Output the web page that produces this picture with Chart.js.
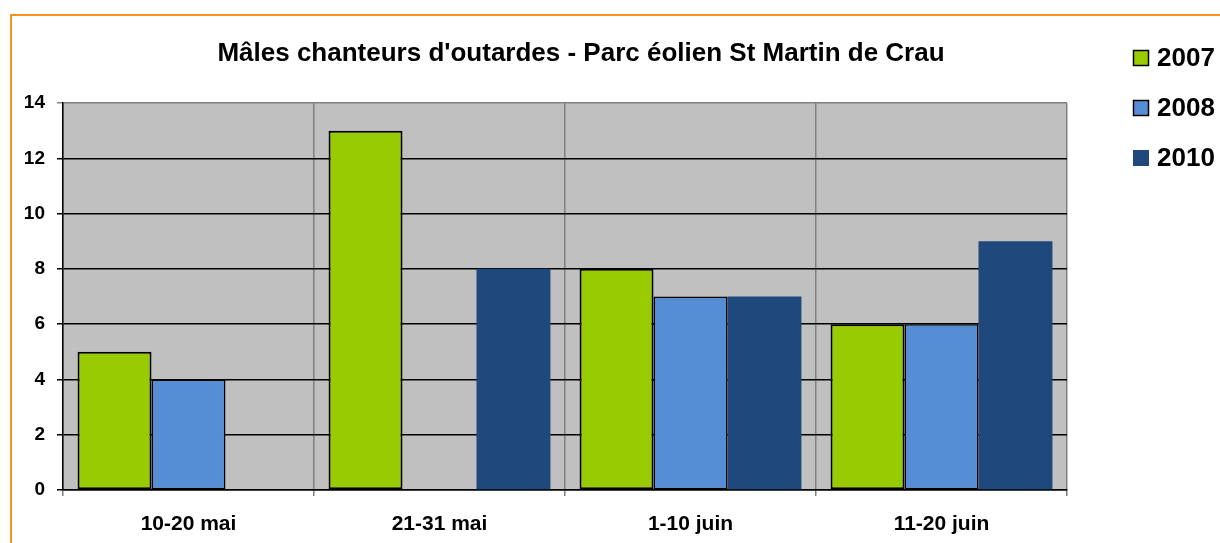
<!DOCTYPE html>
<html>
<head>
<meta charset="utf-8">
<script src="https://cdn.jsdelivr.net/npm/chart.js@4/dist/chart.umd.min.js"></script>
<style>
body{margin:0;background:#fff;overflow:hidden;width:1220px;height:543px;position:relative;}
#frame{position:absolute;left:10px;top:14px;width:1230px;height:600px;border:2px solid #F7931E;box-sizing:border-box;}
#wrap{position:absolute;left:0;top:0;width:1220px;height:543px;}
</style>
</head>
<body>
<div id="frame"></div>
<div id="wrap"><canvas id="myChart" width="1220" height="543"></canvas></div>
<script>
var chartTitle = "Mâles chanteurs d'outardes - Parc éolien St Martin de Crau";
var categories = ["10-20 mai", "21-31 mai", "1-10 juin", "11-20 juin"];
var seriesNames = ["2007", "2008", "2010"];
var values2007 = [5, 13, 8, 6];
var values2008 = [4, null, 7, 6];
var values2010 = [null, 8, 7, 9];
var yTicks = [0, 2, 4, 6, 8, 10, 12, 14];

var colors = ["#99CC00", "#558ED5", "#1F497D"];
var borders = [2, 1.5, 0];

// gray plot area
var plotBg = {
	id: "plotBg",
	beforeDraw: function(chart){
		var a = chart.chartArea, ctx = chart.ctx;
		ctx.save();
		ctx.fillStyle = "#C0C0C0";
		ctx.fillRect(a.left, a.top, a.right - a.left, a.bottom - a.top);
		ctx.restore();
	}
};

// title and legend on the right
var decor = {
	id: "decor",
	afterDraw: function(chart){
		var ctx = chart.ctx;
		ctx.save();
		ctx.fillStyle = "#000";
		ctx.font = "bold 26px 'Liberation Sans', Arial, sans-serif";
		ctx.textAlign = "center";
		ctx.textBaseline = "middle";
		ctx.fillText(chartTitle, 581, 54);

		ctx.font = "bold 26px 'Liberation Sans', Arial, sans-serif";
		ctx.textAlign = "left";
		var ds = chart.data.datasets;
		for (var i = 0; i < ds.length; i++) {
			var cy = 58 + i * 50;
			ctx.fillStyle = ds[i].backgroundColor;
			ctx.fillRect(1133, cy - 8, 16, 16);
			if (ds[i].borderWidth > 0) {
				ctx.strokeStyle = "#000";
				ctx.lineWidth = 1.5;
				ctx.strokeRect(1133.5, cy - 7.5, 15, 15);
			}
			ctx.fillStyle = "#000";
			ctx.fillText(ds[i].label, 1157, cy + 1);
		}
		ctx.restore();
	}
};

var allValues = [values2007, values2008, values2010];
var datasets = [];
for (var i = 0; i < seriesNames.length; i++) {
	datasets.push({
		label: seriesNames[i],
		data: allValues[i],
		backgroundColor: colors[i],
		borderColor: "#000",
		borderWidth: borders[i],
		borderSkipped: false,
		barPercentage: 1,
		categoryPercentage: 0.884
	});
}

var ctx = document.getElementById("myChart").getContext("2d");
var myChart = new Chart(ctx, {
	type: "bar",
	data: { labels: categories, datasets: datasets },
	plugins: [plotBg, decor],
	options: {
		responsive: false,
		animation: false,
		layout: { padding: { left: 0, top: 103, right: 153, bottom: 0 } },
		plugins: { legend: { display: false }, title: { display: false }, tooltip: { enabled: false } },
		scales: {
			x: {
				grid: { color: "#808080", lineWidth: 1.5, tickLength: 6, offset: true },
				border: { color: "#000", width: 1.5 },
				ticks: { color: "#000", font: { family: "'Liberation Sans', Arial, sans-serif", size: 21, weight: "bold" }, padding: 16 },
				afterFit: function(scale){ scale.height = 53; }
			},
			y: {
				min: 0, max: 14,
				afterBuildTicks: function(scale){ scale.ticks = yTicks.map(function(v){ return { value: v }; }); },
				grid: {
					color: function(c){ return c.tick && c.tick.value === 14 ? "#808080" : "#000"; },
					lineWidth: 1.5, tickLength: 6
				},
				border: { color: "#000", width: 1.5 },
				ticks: { color: "#000", font: { family: "'Liberation Sans', Arial, sans-serif", size: 19, weight: "bold" }, padding: 12 },
				afterFit: function(scale){ scale.width = 63; }
			}
		}
	}
});
</script>
</body>
</html>
